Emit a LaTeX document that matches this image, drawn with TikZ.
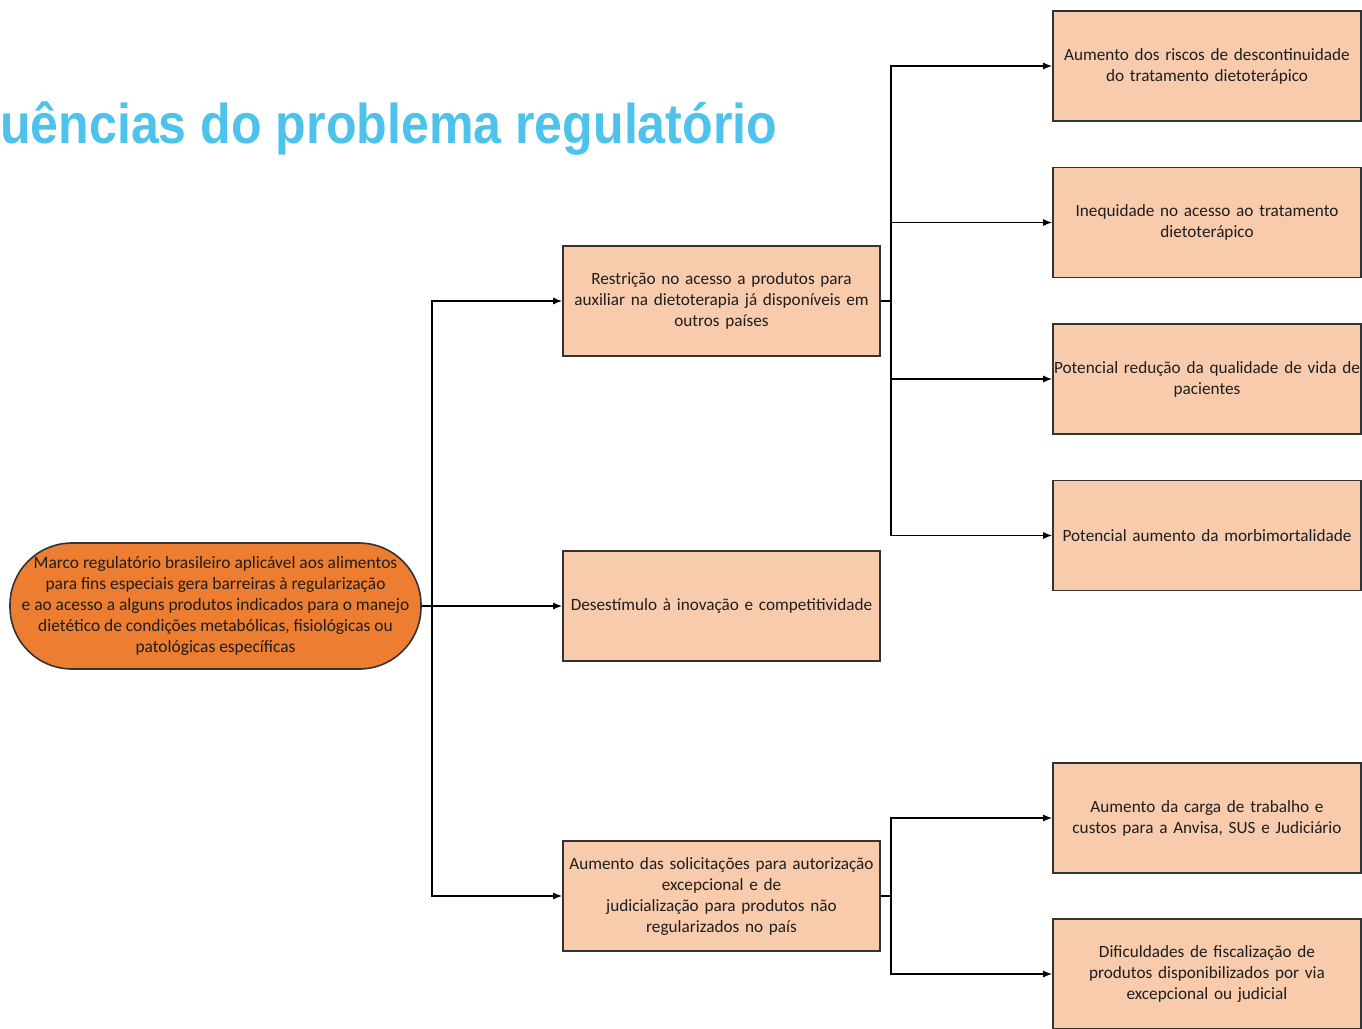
\documentclass[tikz,border=0pt]{standalone}
\usepackage{fontspec}
\usepackage{graphicx}
\setmainfont{Carlito}
\newfontfamily\titlefont{Liberation Sans}
\usetikzlibrary{arrows.meta}
\definecolor{peach}{HTML}{F8CBAD}
\definecolor{orangefill}{HTML}{ED7D31}
\definecolor{boxline}{HTML}{333333}
\definecolor{txt}{HTML}{1E1E1E}
\definecolor{titleblue}{HTML}{4DC3EC}
\tikzset{
  box/.style={draw=boxline, line width=1.6pt, fill=peach, minimum height=110pt,
    align=center, inner sep=0pt, text=txt, font=\fontsize{17.2}{21}\selectfont},
  midbox/.style={box, minimum width=317pt, text width=315pt},
  rightbox/.style={box, minimum width=308pt, text width=308pt},
  rootnode/.style={draw=boxline, line width=1.6pt, fill=orangefill, rounded corners=62pt,
    minimum width=411pt, minimum height=126pt, align=center, inner sep=0pt, text=txt,
    font=\fontsize{17.4}{21}\selectfont},
  conn/.style={line width=1.4pt, -{Latex[length=9pt,width=7pt]}},
  plain/.style={line width=1.4pt}
}
\begin{document}
\begin{tikzpicture}[x=1pt,y=-1pt]
\useasboundingbox (0,0) rectangle (1362,1028);
% title
\node[anchor=base west, inner sep=0pt, text=titleblue] (title) at (0,143)
  {\resizebox{777pt}{\height}{\titlefont\bfseries\fontsize{56}{60}\selectfont uências do problema regulatório}};
% root
\node[rootnode] (root) at (215.5,606) {Marco regulatório brasileiro aplicável aos alimentos\\
para fins especiais gera barreiras à regularização\\
e ao acesso a alguns produtos indicados para o manejo\\
dietético de condições metabólicas, fisiológicas ou\\
patológicas específicas};
% middle
\node[midbox] (m1) at (721.5,301) {Restrição no acesso a produtos para\\auxiliar na dietoterapia já disponíveis em\\outros países};
\node[midbox] (m2) at (721.5,606) {Desestímulo à inovação e competitividade};
\node[midbox] (m3) at (721.5,896) {Aumento das solicitações para autorização\\excepcional e de\\judicialização para produtos não\\regularizados no país};
% right
\node[rightbox] (r1) at (1207,66) {Aumento dos riscos de descontinuidade\\do tratamento dietoterápico};
\node[rightbox] (r2) at (1207,222.5) {Inequidade no acesso ao tratamento\\dietoterápico};
\node[rightbox] (r3) at (1207,379) {Potencial redução da qualidade de vida de\\pacientes};
\node[rightbox] (r4) at (1207,535.5) {Potencial aumento da morbimortalidade};
\node[rightbox] (r5) at (1207,818) {Aumento da carga de trabalho e\\custos para a Anvisa, SUS e Judiciário};
\node[rightbox] (r6) at (1207,974) {Dificuldades de fiscalização de\\produtos disponibilizados por via\\excepcional ou judicial};
% connectors
\coordinate (s0) at (432,606);
\coordinate (s1) at (891,301);
\coordinate (s3) at (891,896);
\draw[plain] (root.east) -- (s0);
\draw[conn] (s0) |- (m1.west);
\draw[conn] (s0) -- (m2.west);
\draw[conn] (s0) |- (m3.west);
\draw[plain] (m1.east) -- (s1);
\draw[conn] (s1) |- (r1.west);
\draw[conn] (s1) |- (r2.west);
\draw[conn] (s1) |- (r3.west);
\draw[conn] (s1) |- (r4.west);
\draw[plain] (m3.east) -- (s3);
\draw[conn] (s3) |- (r5.west);
\draw[conn] (s3) |- (r6.west);
\end{tikzpicture}
\end{document}
